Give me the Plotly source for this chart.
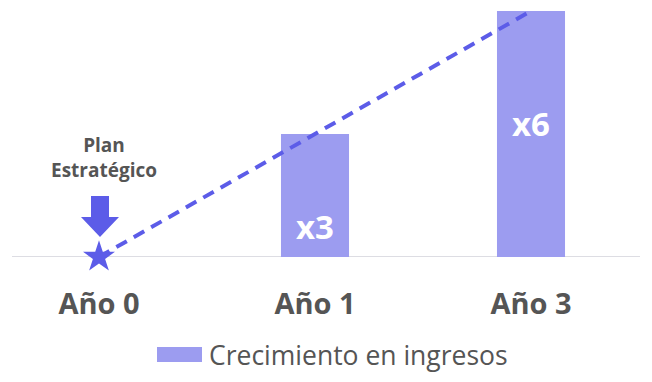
import plotly.graph_objects as go

categories = ["Año 0", "Año 1", "Año 3"]
bar_values = [None, 3, 6]
bar_labels = ["", "x3", "x6"]
trend_values = [0, 3, 6]
legend_label = "Crecimiento en ingresos"
milestone_label = "Plan<br>Estratégico"

W, H = 652, 382
L, R, T, B = 12, 12, 5, 125
PW, PH = W - L - R, H - T - B

def px(x):
    return (x - L) / PW

def py(y):
    return (H - B - y) / PH

BAR = "#9c9cf0"
BLUE = "#5c5ce8"
GREY = "#555555"
FONT = "Open Sans"

fig = go.Figure()
fig.add_trace(go.Bar(x=categories, y=bar_values, marker=dict(color=BAR, line=dict(width=0)),
                     width=0.315, showlegend=False, hoverinfo="skip"))
fig.add_trace(go.Scatter(x=categories, y=trend_values, mode="lines",
                         line=dict(color=BLUE, width=4, dash="12px,8px"),
                         showlegend=False, hoverinfo="skip", cliponaxis=False))
fig.add_trace(go.Scatter(x=[categories[0]], y=[trend_values[0]], mode="markers",
                         marker=dict(symbol="star", size=24, color=BLUE, line=dict(width=0)),
                         showlegend=False, hoverinfo="skip", cliponaxis=False))

# bar labels
label_pos = [None, 0.75, 3.25]
for c, t, yp in zip(categories, bar_labels, label_pos):
    if t:
        fig.add_annotation(x=c, y=yp, text=f"<b>{t}</b>", showarrow=False,
                           font=dict(family=FONT, size=33, color="white"))

# milestone label
fig.add_annotation(xref="paper", yref="paper", x=px(104), y=py(157), text=f"<b>{milestone_label}</b>",
                   showarrow=False, font=dict(family=FONT, size=19, color=GREY),
                   xanchor="center", yanchor="middle")

# arrow
pts = [(91, 196), (109, 196), (109, 217), (119, 217), (100, 237), (81, 217), (91, 217)]
path = "M " + " L ".join(f"{px(a):.5f},{py(b):.5f}" for a, b in pts) + " Z"
fig.add_shape(type="path", xref="paper", yref="paper", path=path,
              fillcolor=BLUE, line=dict(width=0))

# baseline
fig.add_shape(type="line", xref="paper", yref="y", x0=0, x1=1, y0=0, y1=0,
              line=dict(color="#dddde3", width=2), layer="below")

# custom legend
fig.add_shape(type="rect", xref="paper", yref="paper", x0=px(157), x1=px(202), y0=py(362), y1=py(347),
              fillcolor=BAR, line=dict(width=0))
fig.add_annotation(xref="paper", yref="paper", x=px(207), y=py(355), text=legend_label,
                   showarrow=False, xanchor="left", yanchor="middle",
                   font=dict(family=FONT, size=26.5, color=GREY))

c0, c2 = 99, 531
unit = (c2 - c0) / 2
fig.update_layout(
    width=W, height=H,
    margin=dict(l=L, r=R, t=T, b=B),
    paper_bgcolor="white", plot_bgcolor="white",
    showlegend=False,
    xaxis=dict(type="category", range=[-(c0 - L) / unit, 2 + (W - R - c2) / unit],
               showgrid=False, zeroline=False, showline=False,
               ticks="outside", ticklen=21, tickcolor="rgba(0,0,0,0)",
               tickfont=dict(family=FONT, size=29, color=GREY),
               tickvals=categories, ticktext=[f"<b>{c}</b>" for c in categories]),
    yaxis=dict(range=[0, 6.146], visible=False),
)

fig.write_html("out.html")
